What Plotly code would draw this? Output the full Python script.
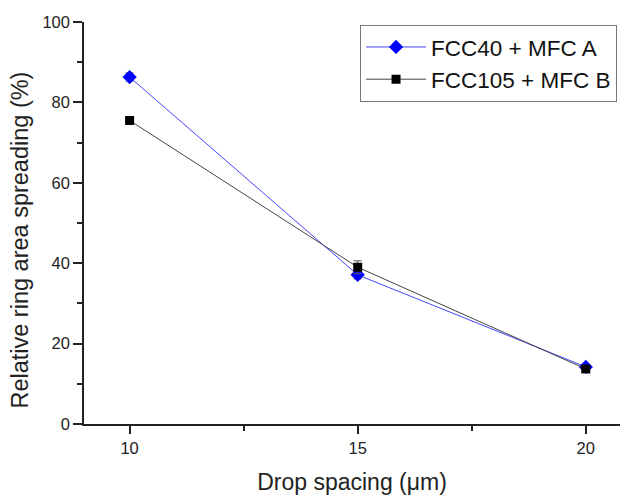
import plotly.graph_objects as go

x_vals = [10, 15, 20]
a_name = "FCC40 + MFC A"
a_vals = [86.3, 37.1, 14.2]
a_err = [1.0, 1.0, 0.6]
b_name = "FCC105 + MFC B"
b_vals = [75.5, 39.0, 13.7]
b_err = [0.6, 1.6, 0.6]

fig = go.Figure()
fig.add_trace(go.Scatter(
    x=x_vals, y=a_vals, name=a_name, mode="lines+markers",
    line=dict(color="rgb(70,70,255)", width=1),
    marker=dict(symbol="diamond", size=11, color="#0000ff"),
    error_y=dict(type="data", array=a_err, color="#555", thickness=1, width=4),
))
fig.add_trace(go.Scatter(
    x=x_vals, y=b_vals, name=b_name, mode="lines+markers",
    line=dict(color="#444", width=1),
    marker=dict(symbol="square", size=9, color="#000"),
    error_y=dict(type="data", array=b_err, color="#555", thickness=1, width=4),
))

font_family = "Liberation Sans, Arial, sans-serif"
fig.update_layout(
    width=620, height=495,
    margin=dict(l=84, r=0, t=22, b=71, autoexpand=False),
    paper_bgcolor="white", plot_bgcolor="white",
    font=dict(family=font_family, color="#222"),
    showlegend=True,
    legend=dict(
        x=0.515, y=0.993, xanchor="left", yanchor="top",
        bordercolor="#777", borderwidth=1, bgcolor="white",
        font=dict(size=22.5, color="#111"), itemwidth=60,
        tracegroupgap=0,
    ),
    xaxis=dict(
        range=[9, 20.75], tickmode="linear", tick0=0, dtick=5,
        showgrid=False, zeroline=False, showline=True, linecolor="#222", linewidth=1.5,
        ticks="outside", ticklen=8, tickwidth=1.5, tickcolor="#222",
        tickfont=dict(size=16.5, color="#222"),
        minor=dict(dtick=2.5, tick0=0, ticks="outside", ticklen=5, tickwidth=1.5, tickcolor="#222", showgrid=False),
        title=dict(text="Drop spacing (μm)", font=dict(size=23, color="#222"), standoff=19),
    ),
    yaxis=dict(
        range=[0, 100], tickmode="linear", tick0=0, dtick=20,
        showgrid=False, zeroline=False, showline=True, linecolor="#222", linewidth=1.5,
        ticks="outside", ticklen=9, tickwidth=1.5, tickcolor="#222",
        tickfont=dict(size=16.5, color="#222"),
        minor=dict(dtick=10, tick0=0, ticks="outside", ticklen=5, tickwidth=1.5, tickcolor="#222", showgrid=False),
    ),
    annotations=[dict(
        text="Relative ring area spreading (%)", textangle=-90,
        xref="paper", yref="paper", x=-0.12, y=0.458,
        xanchor="center", yanchor="middle", showarrow=False,
        font=dict(size=23.5, color="#222"),
    )],
)
fig.write_html(
    "out.html",
    config={"displayModeBar": False},
    post_script="document.body.style.margin='0';document.body.style.overflow='hidden';",
)
